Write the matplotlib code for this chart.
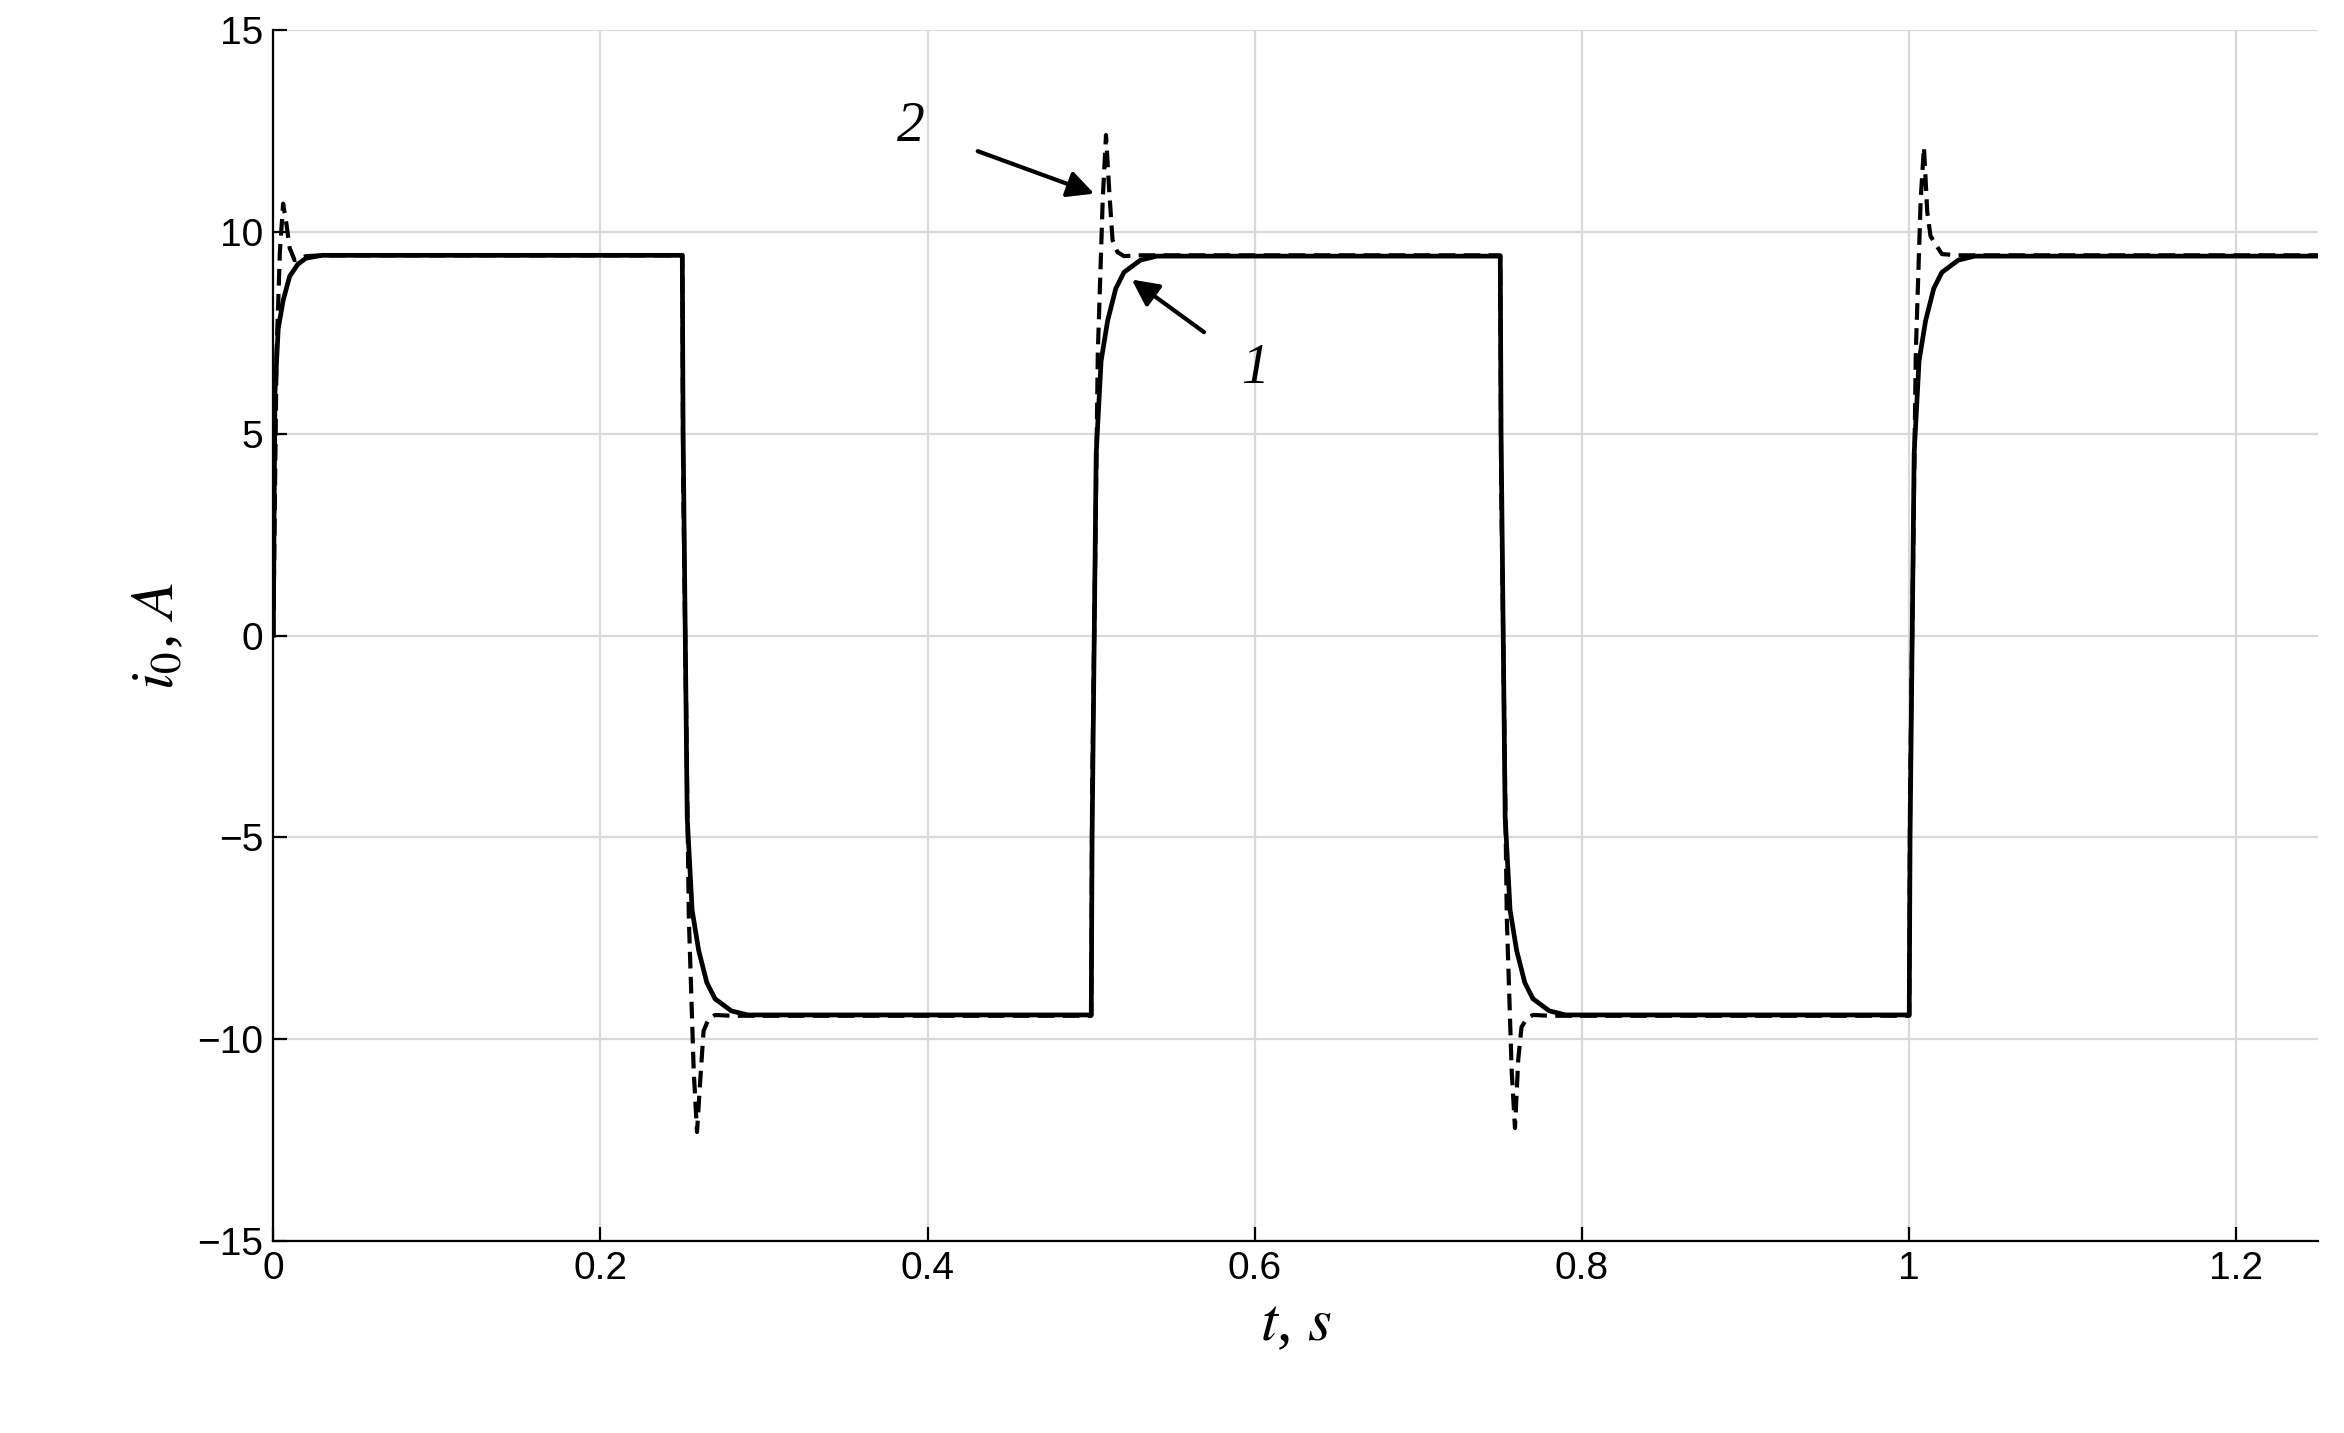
import matplotlib
matplotlib.use("Agg")
import matplotlib.pyplot as plt

plt.rcParams["mathtext.fontset"] = "stix"

# curve 1 (solid)
t1 = [0, 0.001, 0.003, 0.006, 0.01, 0.015, 0.02, 0.03, 0.25, 0.2505, 0.253, 0.256, 0.26, 0.265, 0.27, 0.28, 0.29,
      0.5, 0.5005, 0.503, 0.506, 0.51, 0.515, 0.52, 0.53, 0.54,
      0.75, 0.7505, 0.753, 0.756, 0.76, 0.765, 0.77, 0.78, 0.79,
      1.0, 1.0005, 1.003, 1.006, 1.01, 1.015, 1.02, 1.03, 1.04, 1.25]
i1 = [0, 6.0, 7.6, 8.3, 8.9, 9.2, 9.35, 9.42, 9.42, 5.0, -4.5, -6.8, -7.8, -8.6, -9.0, -9.3, -9.4,
      -9.4, -5.0, 4.5, 6.8, 7.8, 8.6, 9.0, 9.3, 9.4,
      9.4, 5.0, -4.5, -6.8, -7.8, -8.6, -9.0, -9.3, -9.4,
      -9.4, -5.0, 4.5, 6.8, 7.8, 8.6, 9.0, 9.3, 9.4, 9.4]
# curve 2 (dashed)
t2 = [0, 0.002, 0.004, 0.006, 0.008, 0.01, 0.013, 0.02, 0.03, 0.25, 0.2505, 0.254, 0.257, 0.259, 0.261, 0.263, 0.266, 0.27, 0.28,
      0.5, 0.5005, 0.504, 0.507, 0.509, 0.511, 0.513, 0.516, 0.52, 0.53,
      0.75, 0.7505, 0.754, 0.757, 0.759, 0.761, 0.763, 0.766, 0.77, 0.78,
      1.0, 1.0005, 1.004, 1.007, 1.009, 1.011, 1.013, 1.016, 1.02, 1.03, 1.25]
i2 = [0, 7.0, 9.5, 10.7, 10.2, 9.6, 9.3, 9.4, 9.42, 9.42, 4.0, -7.0, -10.8, -12.3, -11.0, -9.8, -9.5, -9.4, -9.42,
      -9.42, -4.0, 7.0, 10.8, 12.4, 11.0, 9.8, 9.5, 9.4, 9.42,
      9.42, 4.0, -7.0, -10.8, -12.2, -10.5, -9.7, -9.5, -9.4, -9.42,
      -9.42, -4.0, 7.0, 10.8, 12.1, 10.5, 9.9, 9.7, 9.45, 9.42, 9.42]

xticks = [0, 0.2, 0.4, 0.6, 0.8, 1, 1.2]
xticklabels = ["0", "0.2", "0.4", "0.6", "0.8", "1", "1.2"]
yticks = [-15, -10, -5, 0, 5, 10, 15]

fig = plt.figure(figsize=(11.72, 7.165), dpi=200)
ax = fig.add_axes([0.1166, 0.134, 0.8724, 0.845])
ax.plot(t2, i2, color="black", lw=1.5, ls=(0, (4, 2)))
ax.plot(t1, i1, color="black", lw=1.7)
ax.set_xlim(0, 1.25)
ax.set_ylim(-15, 15)
ax.set_xticks(xticks)
ax.set_xticklabels(xticklabels)
ax.set_yticks(yticks)
ax.grid(True, color="#d9d9d9", lw=0.8)
ax.set_axisbelow(True)
for s in ["top", "right"]:
    ax.spines[s].set_visible(False)
ax.tick_params(direction="in", labelsize=14, length=5)
for lab in ax.get_xticklabels() + ax.get_yticklabels():
    lab.set_family("Liberation Sans")
ax.set_xlabel(r"$t$, $s$", fontsize=22, family="Liberation Serif")
ax.set_ylabel(r"$i_0$, $A$", fontsize=22, family="Liberation Serif")
ax.annotate("2", xy=(0.505, 10.9), xytext=(0.39, 12.6), fontsize=20, family="Liberation Serif", style="italic",
            ha="center", va="center", arrowprops=dict(arrowstyle="-|>", color="black", lw=1.5, shrinkA=18, mutation_scale=20))
ax.annotate("1", xy=(0.522, 8.9), xytext=(0.6, 6.6), fontsize=20, family="Liberation Serif", style="italic",
            ha="center", va="center", arrowprops=dict(arrowstyle="-|>", color="black", lw=1.5, shrinkA=14, mutation_scale=20))
fig.savefig("out.png", dpi=200)
